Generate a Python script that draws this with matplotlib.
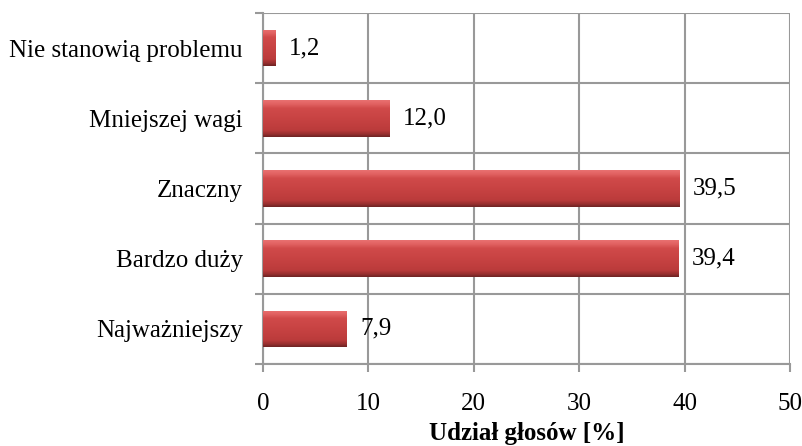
import numpy as np
import matplotlib
matplotlib.use("Agg")
import matplotlib.pyplot as plt
from matplotlib.colors import LinearSegmentedColormap

categories = ["Najważniejszy", "Bardzo duży", "Znaczny", "Mniejszej wagi", "Nie stanowią problemu"]
values = [7.9, 39.4, 39.5, 12.0, 1.2]
labels = ["7,9", "39,4", "39,5", "12,0", "1,2"]
xticks = [0, 10, 20, 30, 40, 50]

plt.rcParams['font.family'] = ['Liberation Serif', 'DejaVu Serif']
FS = 18

fig = plt.figure(figsize=(8.03, 4.46), dpi=100)
ax = fig.add_axes([263/803, 1-364/446, (790-263)/803, (364-13)/446])

y = np.arange(len(categories))
bars = ax.barh(y, values, height=0.52, color="#c84242", zorder=3, edgecolor="none")

cmap = LinearSegmentedColormap.from_list("redgrad", [
    (0.0, "#e87070"), (0.1, "#e26262"), (0.22, "#d04a4a"), (0.5, "#c84343"),
    (0.82, "#bb3b3b"), (0.92, "#9a3030"), (1.0, "#702424")])
grad = np.linspace(0, 1, 64).reshape(-1, 1)
for b in bars:
    x0, y0 = b.get_x(), b.get_y()
    w, h = b.get_width(), b.get_height()
    im = ax.imshow(grad, cmap=cmap, aspect="auto", origin="upper",
                   extent=(x0, x0 + w, y0, y0 + h), zorder=4, interpolation="bilinear")
    im.set_clip_path(b)

for yi, v, lab in zip(y, values, labels):
    ax.text(v + 1.3, yi, lab, va="center", ha="left", fontsize=FS, zorder=5)

ax.set_xlim(0, 50)
ax.set_ylim(-0.5, len(categories) - 0.5)
ax.set_xticks(xticks)
ax.set_xticklabels([str(t) for t in xticks], fontsize=FS)
ax.set_yticks(y)
ax.set_yticklabels(categories, fontsize=FS)
ax.tick_params(axis="y", which="major", length=0, pad=14.5)
ax.set_yticks(np.arange(-0.5, len(categories), 1.0), minor=True)
ax.tick_params(axis="y", which="minor", length=6, color="#999999", width=1.5)
ax.tick_params(axis="x", which="major", length=6, color="#999999", width=1.5, pad=15)

ax.grid(True, axis="x", which="major", color="#999999", linewidth=1.5, zorder=1)
ax.grid(True, axis="y", which="minor", color="#999999", linewidth=1.5, zorder=1)
ax.set_axisbelow(True)

for s in ["top", "right"]:
    ax.spines[s].set_visible(False)
for s in ["left", "bottom"]:
    ax.spines[s].set_color("#999999")
    ax.spines[s].set_linewidth(1.5)

ax.set_xlabel("Udział głosów [%]", fontsize=FS, fontweight="bold", labelpad=5)

fig.savefig("out.png", dpi=100)
